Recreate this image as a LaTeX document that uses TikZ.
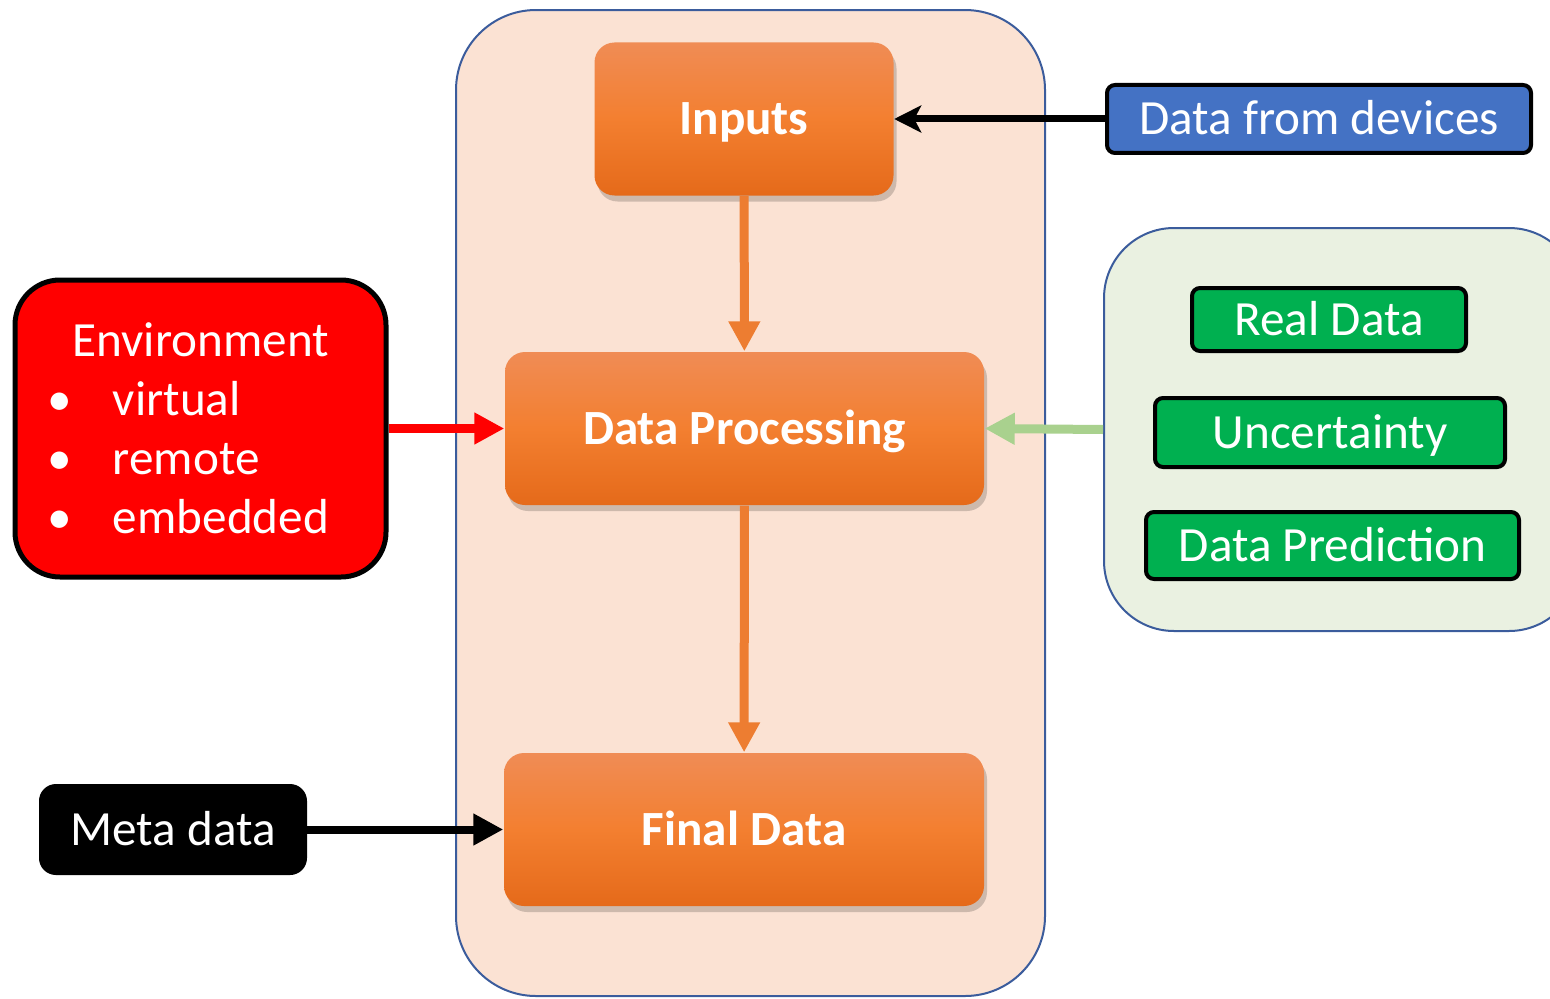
\documentclass[tikz,border=0pt]{standalone}
\usepackage{fontspec}
\setmainfont{Carlito}
\usepackage{tikz}
\usetikzlibrary{arrows.meta, shadows}

\definecolor{peach}{HTML}{FBE2D3}
\definecolor{frameblue}{HTML}{3B5C9C}
\definecolor{palegreen}{HTML}{EAF1E1}
\definecolor{orangetop}{HTML}{F08C55}
\definecolor{orangemid}{HTML}{F37F30}
\definecolor{orangebot}{HTML}{E56A1A}
\definecolor{arroworange}{HTML}{ED7D31}
\definecolor{arrowgreen}{HTML}{A9D18E}
\definecolor{devblue}{HTML}{4472C4}
\definecolor{boxgreen}{HTML}{00B050}

\tikzset{
  panel/.style={rounded corners=8mm, draw=frameblue, line width=0.2mm, inner sep=0pt},
  stage/.style={rounded corners=2mm, top color=orangetop, bottom color=orangebot, middle color=orangemid,
    drop shadow={shadow xshift=0.3mm, shadow yshift=-0.6mm, opacity=0.18, fill=black},
    text=white, font=\fontsize{14}{16}\selectfont\bfseries, inner sep=0pt,
    text height=3.1mm, text depth=0pt, minimum height=15.3mm},
  tag/.style={rounded corners=0.8mm, draw=black, line width=0.4mm, text=white,
    font=\fontsize{14}{16}\selectfont, inner sep=0pt, text height=3.1mm, text depth=0pt},
  flow/.style={line width=0.9mm, -{Triangle[length=3mm, width=3mm]}},
}

\begin{document}
\begin{tikzpicture}[x=0.1mm, y=-0.1mm]
  \clip (0,0) rectangle (1550,998);

  % containers
  \node[panel, fill=peach, minimum width=58.9mm, minimum height=98.6mm] (core) at (750.5,503) {};
  \node[panel, fill=palegreen, rounded corners=7mm, minimum width=47.5mm, minimum height=40.3mm,
    anchor=north west] (extras) at (1103,227) {};

  % main chain
  \node[stage, minimum width=29.9mm] (inputs) at (744,119) {Inputs};
  \node[stage, minimum width=47.9mm] (proc) at (744.5,428.5) {Data Processing};
  \node[stage, minimum width=48mm] (final) at (744,829.5) {Final Data};

  % side boxes
  \node[tag, fill=devblue, minimum width=42.4mm, minimum height=6.8mm] (devices) at (1319,119) {Data from devices};
  \node[tag, fill=boxgreen, minimum width=27.4mm, minimum height=6.3mm] (real) at (1329,319.5) {Real Data};
  \node[tag, fill=boxgreen, minimum width=35mm, minimum height=6.9mm] (unc) at (1330,432.5) {Uncertainty};
  \node[tag, fill=boxgreen, minimum width=37.3mm, minimum height=6.7mm] (pred) at (1332.5,545.5) {Data Prediction};
  \node[tag, fill=red, line width=0.5mm, rounded corners=4.5mm, minimum width=37.1mm, minimum height=29.7mm,
    text height=, text depth=]
    (env) at (200.5,428.5) {\hspace*{-2.4mm}\fontsize{14}{16.8}\selectfont
      \raisebox{-0.45mm}[\height][\depth]{\begin{tabular}{@{}p{6.5mm}@{}l@{}}
        \multicolumn{2}{r@{}}{Environment}\\
        \textbullet & virtual\\
        \textbullet & remote\\
        \textbullet & embedded
      \end{tabular}}};
  \node[tag, fill=black, rounded corners=1.5mm, minimum width=26.4mm, minimum height=8.7mm] (meta) at (173,829.5) {Meta data};

  % connectors
  \draw[line width=0.7mm, -{Stealth[length=2.7mm, width=2.7mm, inset=0.7mm]}] (devices) -- (inputs);
  \draw[flow, arroworange] (inputs) -- (proc);
  \draw[flow, arroworange] (proc) -- (final);
  \draw[flow, red] (env) -- (proc);
  \draw[flow, arrowgreen] (extras.west) -- (proc.east);
  \draw[flow, line width=0.8mm] (meta) -- (final);
\end{tikzpicture}
\end{document}
